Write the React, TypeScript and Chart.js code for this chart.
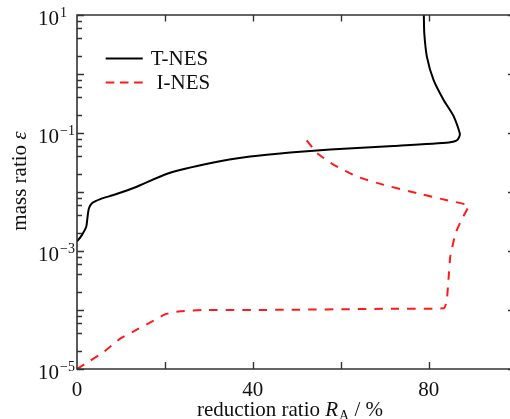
import React, { useEffect, useRef } from 'react';
import { Chart, registerables } from 'chart.js';

Chart.register(...registerables);

// T-NES (solid black) — reduction ratio (%) and mass ratio
const tnesX = [0, 1.1, 2.1, 2.4, 2.7, 3.4, 5.3, 8.3, 13.6, 20.5, 30.5, 39.4, 48.5, 57.6, 72, 84.6, 86.5, 87.1, 85.7, 83.4, 81.1, 79.6, 79.0, 78.9];
const tnesY = [1.45e-3, 1.86e-3, 2.57e-3, 3.8e-3, 5.25e-3, 6.46e-3, 7.59e-3, 8.9e-3, 0.0123, 0.0204, 0.0309, 0.0398, 0.0468, 0.0525, 0.0603, 0.0692, 0.0759, 0.0955, 0.191, 0.363, 0.794, 1.95, 4.9, 10];

// I-NES (dashed red)
const inesX = [0, 3, 6.1, 9.9, 13.7, 16.7, 20.1, 23.5, 28.8, 41.7, 72, 83.5, 84.1, 84.5, 84.9, 86.1, 87.6, 89.1, 84.2, 77.4, 69.8, 63.7, 58.4, 54.6, 52.2];
const inesY = [1e-5, 1.38e-5, 1.95e-5, 3.31e-5, 4.68e-5, 6.17e-5, 8.51e-5, 9.55e-5, 1.0e-4, 1.0e-4, 1.05e-4, 1.07e-4, 1.38e-4, 3.24e-4, 7.94e-4, 2.0e-3, 3.55e-3, 5.89e-3, 7.24e-3, 9.55e-3, 0.0132, 0.0182, 0.0288, 0.0457, 0.0759];

const seriesNames = ['T-NES', 'I-NES'];
const xTicks = [0, 20, 40, 60, 80];
const xTickLabels = ['0', '', '40', '', '80'];
const yDecades = [-5, -4, -3, -2, -1, 0, 1];
const yLabelExps = [-5, -3, -1, 1];
const yMinorMults = [2, 4, 6, 8];
const xTitleParts = ['reduction ratio ', 'R', 'A', ' / %'];
const yTitleParts = ['mass ratio ', 'ε'];

const SERIF = "'Liberation Serif', 'Times New Roman', serif";

const framePlugin = {
  id: 'frame',
  afterDatasetsDraw(chart: any) {
    const { ctx, chartArea: a, scales } = chart;
    const xs = scales.x;
    const ys = scales.y;
    ctx.save();
    ctx.strokeStyle = '#333';
    ctx.lineWidth = 1.6;
    ctx.setLineDash([]);
    ctx.beginPath();
    ctx.moveTo(a.right, a.top);
    ctx.lineTo(a.left, a.top);
    ctx.lineTo(a.left, a.bottom);
    ctx.lineTo(a.right, a.bottom);
    ctx.stroke();

    ctx.lineWidth = 1.4;
    ctx.beginPath();
    xTicks.forEach((t) => {
      if (t === 0) return;
      const px = Math.round(xs.getPixelForValue(t)) + 0.5;
      ctx.moveTo(px, a.bottom);
      ctx.lineTo(px, a.bottom - 7);
      ctx.moveTo(px, a.top);
      ctx.lineTo(px, a.top + 6.5);
    });
    yDecades.forEach((d) => {
      const v = Math.pow(10, d);
      const py = Math.round(ys.getPixelForValue(v)) + 0.5;
      ctx.moveTo(a.left, py);
      ctx.lineTo(a.left + 7, py);
      ctx.moveTo(a.right, py);
      ctx.lineTo(a.right - 2, py);
      if (d < 1) {
        yMinorMults.forEach((m) => {
          const pm = Math.round(ys.getPixelForValue(v * m)) + 0.5;
          ctx.moveTo(a.left, pm);
          ctx.lineTo(a.left + 5, pm);
        });
      }
    });
    ctx.stroke();

    // labels
    ctx.fillStyle = '#111';
    ctx.font = `21px ${SERIF}`;
    ctx.textAlign = 'center';
    ctx.textBaseline = 'alphabetic';
    xTicks.forEach((t, i) => {
      if (!xTickLabels[i]) return;
      ctx.fillText(xTickLabels[i], xs.getPixelForValue(t), 395.5);
    });

    ctx.textAlign = 'left';
    yLabelExps.forEach((e) => {
      const py = ys.getPixelForValue(Math.pow(10, e));
      ctx.font = `21px ${SERIF}`;
      ctx.fillText('10', 38, py + 9.5);
      const w = ctx.measureText('10').width;
      ctx.font = `14px ${SERIF}`;
      const s = e < 0 ? '\u2212' + String(-e) : String(e);
      ctx.fillText(s, 38 + w + 1, py + 1.5);
    });

    // x title
    let x = 197;
    const by = 416;
    ctx.font = `21px ${SERIF}`;
    ctx.fillText(xTitleParts[0], x, by);
    x += ctx.measureText(xTitleParts[0]).width;
    ctx.font = `italic 21px ${SERIF}`;
    ctx.fillText(xTitleParts[1], x, by);
    x += ctx.measureText(xTitleParts[1]).width + 1;
    ctx.font = `14px ${SERIF}`;
    ctx.fillText(xTitleParts[2], x, by + 4);
    x += ctx.measureText(xTitleParts[2]).width;
    ctx.font = `21px ${SERIF}`;
    ctx.fillText(xTitleParts[3], x, by);

    // y title
    ctx.save();
    ctx.translate(25.5, 0);
    ctx.rotate(-Math.PI / 2);
    ctx.font = `21px ${SERIF}`;
    const w1 = ctx.measureText(yTitleParts[0]).width;
    ctx.font = `italic 21px ${SERIF}`;
    const w2 = ctx.measureText(yTitleParts[1]).width;
    const total = w1 + w2;
    let yy = -(181 + total / 2);
    ctx.font = `21px ${SERIF}`;
    ctx.fillText(yTitleParts[0], yy, 0);
    yy += w1;
    ctx.font = `italic 21px ${SERIF}`;
    ctx.fillText(yTitleParts[1], yy, 0);
    ctx.restore();

    // legend
    ctx.lineWidth = 2;
    ctx.strokeStyle = '#000';
    ctx.beginPath();
    ctx.moveTo(105.7, 58.5);
    ctx.lineTo(142.7, 58.5);
    ctx.stroke();
    ctx.strokeStyle = '#ff1a1a';
    ctx.setLineDash([8.6, 5.6]);
    ctx.beginPath();
    ctx.moveTo(105.7, 82.5);
    ctx.lineTo(142.7, 82.5);
    ctx.stroke();
    ctx.setLineDash([]);
    ctx.fillStyle = '#111';
    ctx.font = `21px ${SERIF}`;
    ctx.fillText(seriesNames[0], 150.7, 65);
    ctx.fillText(seriesNames[1], 156.5, 88.5);
    ctx.restore();
  },
};

export default function App() {
  const ref = useRef<HTMLCanvasElement | null>(null);
  useEffect(() => {
    if (!ref.current) return;
    const chart = new Chart(ref.current, {
      type: 'scatter',
      data: {
        datasets: [
          {
            label: seriesNames[0],
            data: tnesX.map((x, i) => ({ x, y: tnesY[i] })),
            showLine: true,
            borderColor: '#000',
            borderWidth: 2,
            pointRadius: 0,
            tension: 0.2,
          },
          {
            label: seriesNames[1],
            data: inesX.map((x, i) => ({ x, y: inesY[i] })),
            showLine: true,
            borderColor: '#ff1a1a',
            borderWidth: 2,
            borderDash: [8.5, 8],
            pointRadius: 0,
            tension: 0.1,
          },
        ],
      },
      options: {
        animation: false,
        responsive: false,
        layout: { padding: { left: 77, right: 0, top: 15, bottom: 50 } },
        plugins: { legend: { display: false }, tooltip: { enabled: false } },
        scales: {
          x: { type: 'linear', min: 0, max: 98.5, display: false },
          y: { type: 'logarithmic', min: 1e-5, max: 10, display: false },
        },
      },
      plugins: [framePlugin],
    });
    return () => chart.destroy();
  }, []);
  return (
    <div style={{ position: 'absolute', left: 0, top: 0, width: 510, height: 419, background: '#fff' }}>
      <canvas ref={ref} width={510} height={419} />
    </div>
  );
}
